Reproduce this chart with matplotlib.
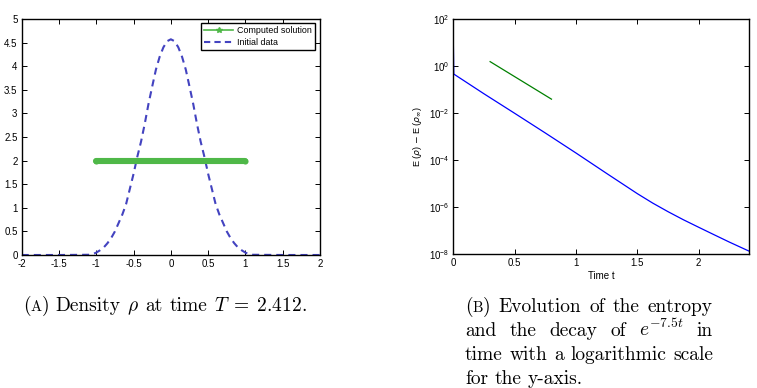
import matplotlib
matplotlib.use("Agg")
import matplotlib.pyplot as plt
from matplotlib.lines import Line2D
from matplotlib.ticker import FuncFormatter, MultipleLocator, NullLocator

# ---------------- data ----------------
# (A) density
rho_x = [-2.0, -1.5, -1.1, -1.05, -1.0, -0.95, -0.9, -0.85, -0.8, -0.75, -0.7, -0.65,
         -0.6, -0.55, -0.5, -0.45, -0.4, -0.35, -0.3, -0.25, -0.2, -0.15, -0.1, -0.05,
         0.0, 0.05, 0.1, 0.15, 0.2, 0.25, 0.3, 0.35, 0.4, 0.45, 0.5, 0.55, 0.6, 0.65,
         0.7, 0.75, 0.8, 0.85, 0.9, 0.95, 1.0, 1.05, 1.1, 1.5, 2.0]
rho_y = [0.0, 0.0, 0.005, 0.02, 0.05, 0.1, 0.16, 0.25, 0.36, 0.5, 0.68, 0.86,
         1.08, 1.4, 1.72, 2.08, 2.4, 2.78, 3.2, 3.57, 3.93, 4.2, 4.4, 4.53,
         4.57, 4.53, 4.4, 4.2, 3.93, 3.57, 3.2, 2.78, 2.4, 2.08, 1.72, 1.4, 1.08, 0.86,
         0.68, 0.5, 0.36, 0.25, 0.16, 0.1, 0.05, 0.02, 0.005, 0.0, 0.0]
sol_x = [-1.0, 1.0]
sol_y = [2.0, 2.0]

# (B) entropy
t_ent = [0.0, 0.004, 0.25, 0.5, 0.75, 1.0, 1.25, 1.5, 1.625, 1.75, 1.875, 2.0,
         2.125, 2.25, 2.412]
E_ent = [13.0, 0.468, 6.76e-2, 1.0e-2, 1.45e-3, 2.04e-4, 2.75e-5, 3.8e-6, 1.51e-6,
         6.5e-7, 2.95e-7, 1.41e-7, 6.8e-8, 3.3e-8, 1.35e-8]
t_ref = [0.3, 0.8]
E_ref = [1.58, 0.040]

W, H = 757, 388
fig = plt.figure(figsize=(W / 100, H / 100), dpi=100)
tickfont = "Liberation Sans"
TICK = 7.0

def axrect(x0, y0, x1, y1):
    return [x0 / W, 1 - y1 / H, (x1 - x0) / W, (y1 - y0) / H]

# ---------------- left panel ----------------
ax1 = fig.add_axes(axrect(21.7, 19, 320, 255))
ax1.plot(sol_x, sol_y, color="#4fb848", lw=4.4, solid_capstyle="round",
         marker="o", ms=4.4, mew=0, zorder=3)
ax1.plot(rho_x, rho_y, color="#4343c0", lw=1.5, linestyle=(0, (3.4, 2.4)), zorder=2)
ax1.set_xlim(-2, 2)
ax1.set_ylim(0, 5)
ax1.xaxis.set_major_locator(MultipleLocator(0.5))
ax1.yaxis.set_major_locator(MultipleLocator(0.5))
fmt = FuncFormatter(lambda v, p: "%g" % v)
ax1.xaxis.set_major_formatter(fmt)
ax1.yaxis.set_major_formatter(fmt)

handles = [Line2D([], [], color="#4fb848", lw=1.2, marker="*", ms=4),
           Line2D([], [], color="#4343c0", lw=1.5, linestyle=(0, (3.0, 2.0)))]
leg = ax1.legend(handles, ["Computed solution", "Initial data"], loc="upper right",
                 bbox_to_anchor=((315 - 21.7) / 298.3, 1 - 4 / 236), borderaxespad=0,
                 fancybox=False, framealpha=1, edgecolor="black",
                 prop={"family": tickfont, "size": 6.4}, handlelength=3.3,
                 handletextpad=0.4, labelspacing=0.3, borderpad=0.35)
leg.get_frame().set_linewidth(1.0)

# ---------------- right panel ----------------
ax2 = fig.add_axes(axrect(453.3, 19.3, 749.3, 254.3))
ax2.plot(t_ent, E_ent, color="#0000ff", lw=0.9)
ax2.plot(t_ref, E_ref, color="#008000", lw=0.9)
ax2.set_yscale("log")
ax2.set_xlim(0, 2.412)
ax2.set_ylim(1e-8, 1e2)
ax2.xaxis.set_major_locator(MultipleLocator(0.5))
ax2.xaxis.set_major_formatter(fmt)
ax2.set_yticks([1e-8, 1e-6, 1e-4, 1e-2, 1e0, 1e2])
ax2.yaxis.set_minor_locator(NullLocator())
ax2.set_xlabel("Time t", family=tickfont, fontsize=TICK, labelpad=1.5)
ax2.set_ylabel(r"E ($\rho$) $-$ E ($\rho_{\infty}$)", family=tickfont, fontsize=6.6,
               labelpad=3)

for ax in (ax1, ax2):
    ax.tick_params(direction="in", top=True, right=True, length=3.5, width=0.7,
                   labelsize=TICK, pad=3)
    for lab in ax.get_xticklabels() + ax.get_yticklabels():
        lab.set_family(tickfont)
    for s in ax.spines.values():
        s.set_linewidth(1.0)

# ---------------- captions ----------------
renderer = fig.canvas.get_renderer()
CAP = 14.0

def measure(pieces):
    tot = 0
    for s, f in pieces:
        t = fig.text(0, 0, s, fontsize=CAP * f, family="cmr10", math_fontfamily="cm")
        tot += t.get_window_extent(renderer).width
        t.remove()
    return tot

def draw(pieces, x, y):
    for s, f in pieces:
        t = fig.text(x / W, 1 - y / H, s, fontsize=CAP * f, family="cmr10",
                     math_fontfamily="cm", va="baseline", ha="left")
        x += t.get_window_extent(renderer).width
    return x

def line(words, x0, y, x1=None, space=None):
    widths = [measure(w) for w in words]
    if x1 is not None:
        gap = (x1 - x0 - sum(widths)) / (len(words) - 1)
    else:
        gap = space
    x = x0
    for w, wd in zip(words, widths):
        draw(w, x, y)
        x += wd + gap

sp = measure([("a b", 1.0)]) - measure([("ab", 1.0)])
small = 0.76

# caption A (natural spacing)
capA = [[("(", 1.0), ("A", small), (")", 1.0)], [("Density", 1.0)], [(r"$\rho$", 1.0)],
        [("at", 1.0)], [("time", 1.0)], [(r"$T\;=\;2.412$.", 1.0)]]
line(capA, 23, 311, space=sp)

# caption B
b1 = [[("(", 1.0), ("B", small), (")", 1.0)], [("Evolution", 1.0)], [("of", 1.0)],
      [("the", 1.0)], [("entropy", 1.0)]]
b2 = [[("and", 1.0)], [("the", 1.0)], [("decay", 1.0)], [("of", 1.0)],
      [(r"$e^{-7.5t}$", 1.0)], [("in", 1.0)]]
b3 = [[("time", 1.0)], [("with", 1.0)], [("a", 1.0)], [("logarithmic", 1.0)],
      [("scale", 1.0)]]
b4 = [[("for", 1.0)], [("the", 1.0)], [("y-axis.", 1.0)]]
line(b1, 465, 312, x1=713)
line(b2, 465, 336, x1=713)
line(b3, 465, 360, x1=713)
line(b4, 465, 384, space=sp)

fig.savefig("out.png", dpi=100)
